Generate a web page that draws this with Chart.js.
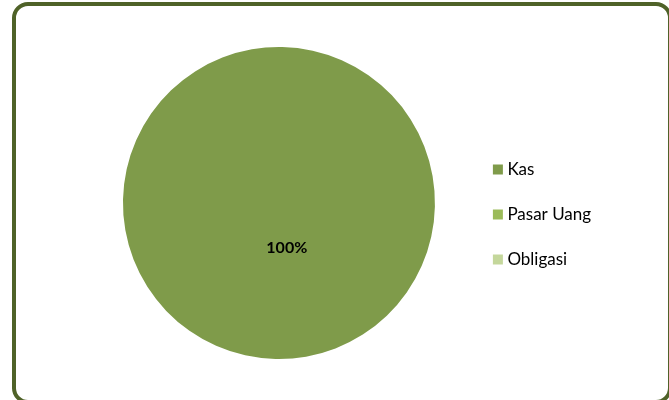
<!DOCTYPE html>
<html>
<head>
<meta charset="utf-8">
<script src="https://cdn.jsdelivr.net/npm/chart.js@4"></script>
<style>
  html, body { margin: 0; padding: 0; background: #fff; overflow: hidden; }
  body { width: 669px; height: 400px; position: relative; }
  .frame {
    position: absolute; left: 12px; top: 2px;
    width: 660px; height: 402px; box-sizing: border-box;
    border: 4.5px solid #4f6228; border-radius: 16px;
  }
  .wrap { position: absolute; left: 16px; top: 6px; width: 652px; height: 394px; }
</style>
</head>
<body>
<div class="frame"></div>
<div class="wrap"><canvas id="pie"></canvas></div>
<script>
const categories = ["Kas", "Pasar Uang", "Obligasi"];
const values = [100, 0, 0];
const colors = ["#7f9b4a", "#9bbb59", "#c4d79b"];

// percentage label on every non-empty slice
const sliceLabels = {
  id: "sliceLabels",
  afterDatasetsDraw(chart) {
    const ctx = chart.ctx;
    const data = chart.data.datasets[0].data;
    const total = data.reduce((a, b) => a + b, 0);
    chart.getDatasetMeta(0).data.forEach((arc, i) => {
      if (!data[i]) return;
      const p = arc.getProps(["x", "y", "startAngle", "endAngle", "outerRadius"], true);
      const mid = (p.startAngle + p.endAngle) / 2;
      const r = p.outerRadius * 0.29;
      ctx.save();
      ctx.font = "bold 16px Lato";
      ctx.fillStyle = "#000";
      ctx.textAlign = "center";
      ctx.textBaseline = "middle";
      ctx.fillText(Math.round(data[i] / total * 100) + "%", p.x + Math.cos(mid) * r, p.y + Math.sin(mid) * r);
      ctx.restore();
    });
  }
};

new Chart(document.getElementById("pie"), {
  type: "pie",
  data: {
    labels: categories,
    datasets: [{
      data: values,
      backgroundColor: colors,
      borderWidth: 0,
      hoverOffset: 0,
      offset: 0
    }]
  },
  options: {
    responsive: true,
    maintainAspectRatio: false,
    animation: false,
    rotation: -10,
    layout: { padding: { left: 73, right: 67, top: 41, bottom: 41 } },
    plugins: {
      tooltip: { enabled: false },
      legend: {
        position: "right",
        title: { display: true, text: "", font: { size: 13, lineHeight: 1 }, padding: 5 },
        labels: {
          usePointStyle: true,
          pointStyle: "rect",
          boxWidth: 2,
          boxHeight: 10,
          padding: 28,
          color: "#000",
          font: { family: "Lato", size: 17 }
        }
      }
    }
  },
  plugins: [sliceLabels]
});
</script>
</body>
</html>
